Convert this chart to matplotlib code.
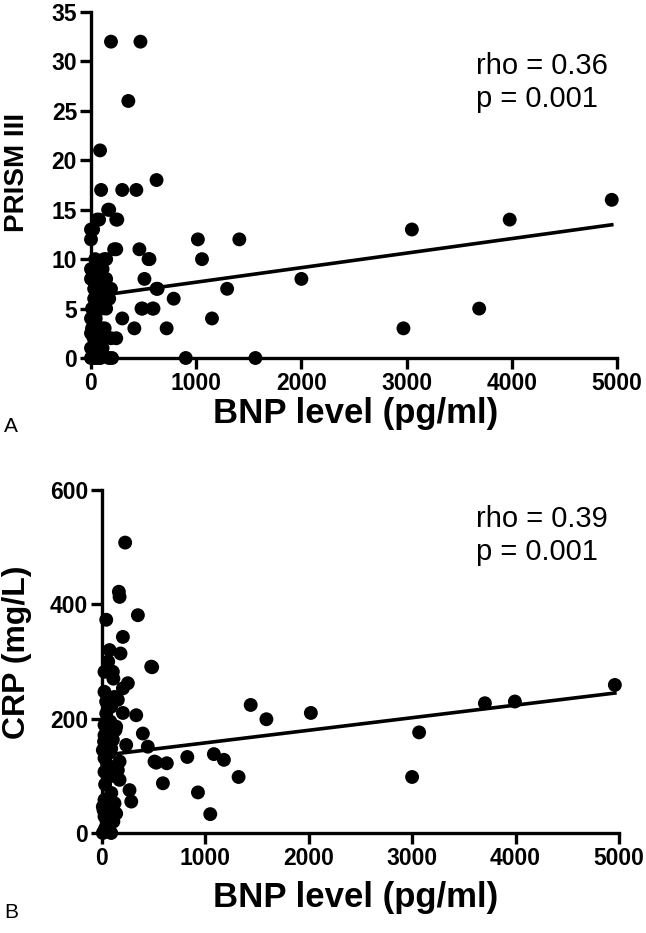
import matplotlib
matplotlib.use("Agg")
import matplotlib.pyplot as plt
import numpy as np

plt.rcParams['font.family'] = ['Liberation Sans', 'DejaVu Sans']
plt.rcParams['font.weight'] = 'bold'

# panel A: BNP vs PRISM III
bnp_a = [190, 470, 355, 86, 96, 297, 431, 623, 163, 173, 77, 58, 240, 250, 20, 0, 0,
         240, 220, 460, 144, 125, 547, 556, 1016, 1410, 1055, 508, 623, 633, 1294, 786,
         489, 480, 594, 585, 297, 1150, 412, 719, 240, 901, 1563, 170, 200, 58, 0,
         2000, 2970, 3050, 3690, 3980, 4950,
         93, 105, 0, 0, 144, 30, 48, 190, 173, 77, 10, 144, 0, 105, 0, 77, 190, 0, 20, 60,
         40, 60, 110, 130, 20, 50, 90, 120, 30, 70, 100, 15, 45, 80, 130, 25, 65, 110,
         35, 90, 10, 55]
prism_a = [32, 32, 26, 21, 17, 17, 17, 18, 15, 15, 14, 14, 14, 14, 13, 13, 12,
           11, 11, 11, 10, 10, 10, 10, 12, 12, 10, 8, 7, 7, 7, 6,
           5, 5, 5, 5, 4, 4, 3, 3, 2, 0, 0, 0, 0, 0, 0,
           8, 3, 13, 5, 14, 16,
           9, 9, 9, 8, 8, 7, 7, 7, 6, 6, 5, 5, 4, 3, 2.5, 2, 2, 1, 4, 6,
           10, 9, 9, 8, 8, 8, 7, 6, 6, 5, 5, 4, 4, 3, 3, 2, 1, 1,
           0, 0, 3, 2]
rho_a = "rho = 0.36"
p_a = "p = 0.001"
fit_a = (6.2, 0.00147)   # intercept, slope

# panel B: BNP vs CRP
bnp_b = [224, 163, 170, 347, 41, 202, 73, 179, 476, 485, 24, 105, 250, 202, 24, 121,
         153, 89, 41, 202, 331, 24, 137, 395, 24, 105, 234, 443, 8, 89, 24, 170, 508,
         525, 627, 825, 1082, 1179, 1321, 589, 928, 1047, 1438, 1590, 24, 153, 170,
         266, 24, 121, 283, 8, 137, 24, 56, 24, 89, 8,
         2020, 3067, 2999, 3703, 3993, 4960,
         60, 110, 40, 80, 130, 20, 70, 50, 100, 30, 90, 60, 15, 75, 45, 110, 35, 65]
crp_b = [508, 422, 413, 381, 373, 343, 320, 314, 291, 290, 282, 282, 262, 253, 247, 238,
         233, 221, 209, 210, 206, 189, 186, 174, 171, 163, 154, 151, 145, 148, 131, 125, 125,
         123, 122, 133, 138, 128, 98, 87, 71, 33, 224, 199, 107, 110, 93,
         75, 58, 52, 55, 46, 34, 29, 17, 5, 0, 0,
         210, 176, 98, 227, 230, 259,
         300, 270, 230, 195, 180, 160, 140, 120, 100, 85, 70, 60, 40, 40, 20, 20, 10, 8]
rho_b = "rho = 0.39"
p_b = "p = 0.001"
fit_b = (135.7, 0.022)

xticks = [0, 1000, 2000, 3000, 4000, 5000]

W, H = 646, 933
fig = plt.figure(figsize=(W / 100, H / 100), dpi=100)


def px_axes(left, top, right, bottom):
    return fig.add_axes([left / W, 1 - bottom / H, (right - left) / W, (bottom - top) / H])


def style(ax, ylim, yticks):
    ax.set_xlim(0, 5000)
    ax.set_ylim(*ylim)
    ax.set_xticks(xticks)
    ax.set_yticks(yticks)
    for s in ['top', 'right']:
        ax.spines[s].set_visible(False)
    for s in ['left', 'bottom']:
        ax.spines[s].set_linewidth(2.4)
        ax.spines[s].set_capstyle('projecting')
    ax.tick_params(direction='out', length=8, width=2.4, pad=2, labelsize=16.5)


def panel(ax, x, y, fit):
    ax.scatter(x, y, s=100, color='black', edgecolors='none', clip_on=False, zorder=3)
    xs = np.array([0, max(x)])
    ax.plot(xs, fit[0] + fit[1] * xs, color='black', lw=2.6, zorder=2)


ax1 = px_axes(91, 12, 617, 358)
panel(ax1, bnp_a, prism_a, fit_a)
style(ax1, (0, 35), range(0, 36, 5))

ax2 = px_axes(102, 490, 619, 833)
panel(ax2, bnp_b, crp_b, fit_b)
style(ax2, (0, 600), [0, 200, 400, 600])

# stats text
fig.text(476 / W, 1 - 74 / H, rho_a, fontsize=21, fontweight='normal', va='baseline')
fig.text(476 / W, 1 - 107 / H, p_a, fontsize=21, fontweight='normal', va='baseline')
fig.text(476 / W, 1 - 527 / H, rho_b, fontsize=21, fontweight='normal', va='baseline')
fig.text(476 / W, 1 - 560 / H, p_b, fontsize=21, fontweight='normal', va='baseline')

# axis labels
fig.text(356 / W, 1 - 413 / H, "BNP level (pg/ml)", fontsize=25, fontweight='bold',
         ha='center', va='center')
fig.text(356 / W, 1 - 897 / H, "BNP level (pg/ml)", fontsize=25, fontweight='bold',
         ha='center', va='center')
fig.text(17 / W, 1 - 172 / H, "PRISM III", fontsize=20, fontweight='bold',
         rotation=90, ha='center', va='center')
fig.text(17 / W, 1 - 652 / H, "CRP (mg/L)", fontsize=23, fontweight='bold',
         rotation=90, ha='center', va='center')

fig.text(4 / W, 1 - 426 / H, "A", fontsize=15, fontweight='normal', va='center')
fig.text(4 / W, 1 - 912 / H, "B", fontsize=15, fontweight='normal', va='center')

fig.savefig("out.png", dpi=100)
